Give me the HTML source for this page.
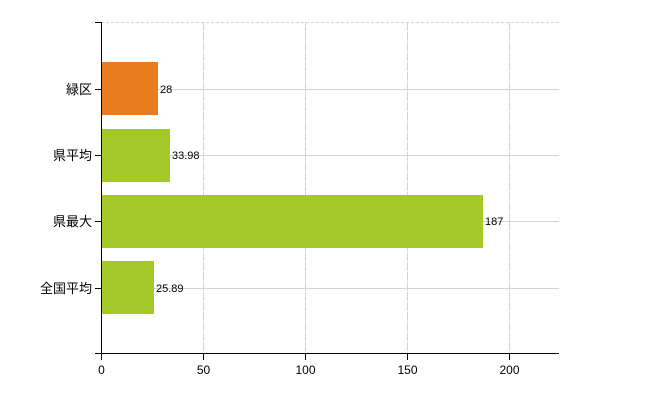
<!DOCTYPE html>
<html><head><meta charset="utf-8"><style>
html,body{margin:0;padding:0;background:#fff;}
svg text{font-family:"Liberation Sans","Noto Sans CJK JP",sans-serif;}
</style></head><body>
<svg width="650" height="400" viewBox="0 0 650 400" xmlns="http://www.w3.org/2000/svg">
<g stroke="#d4d4d4" stroke-width="1">
<line x1="101" y1="22.5" x2="559" y2="22.5" stroke-dasharray="3,2"/>
<line x1="101" y1="89.5" x2="559" y2="89.5"/>
<line x1="101" y1="155.5" x2="559" y2="155.5"/>
<line x1="101" y1="221.5" x2="559" y2="221.5"/>
<line x1="101" y1="288.5" x2="559" y2="288.5"/>
<line x1="203.5" y1="22" x2="203.5" y2="354" stroke-dasharray="9,1"/>
<line x1="305.5" y1="22" x2="305.5" y2="354" stroke-dasharray="9,1"/>
<line x1="407.5" y1="22" x2="407.5" y2="354" stroke-dasharray="9,1"/>
<line x1="509.5" y1="22" x2="509.5" y2="354" stroke-dasharray="9,1"/>
</g>
<rect x="101" y="62" width="57" height="53" fill="#e87c1e"/>
<rect x="101" y="129" width="69" height="53" fill="#a6c92a"/>
<rect x="101" y="195" width="382" height="53" fill="#a6c92a"/>
<rect x="101" y="261" width="53" height="53" fill="#a6c92a"/>
<g stroke="#000" stroke-width="1">
<line x1="101.5" y1="22" x2="101.5" y2="354"/>
<line x1="95" y1="353.5" x2="559" y2="353.5"/>
<line x1="95" y1="22.5" x2="101" y2="22.5"/>
<line x1="95" y1="89.5" x2="101" y2="89.5"/>
<line x1="95" y1="155.5" x2="101" y2="155.5"/>
<line x1="95" y1="221.5" x2="101" y2="221.5"/>
<line x1="95" y1="288.5" x2="101" y2="288.5"/>
<line x1="101.5" y1="354" x2="101.5" y2="360"/>
<line x1="203.5" y1="354" x2="203.5" y2="360"/>
<line x1="305.5" y1="354" x2="305.5" y2="360"/>
<line x1="407.5" y1="354" x2="407.5" y2="360"/>
<line x1="509.5" y1="354" x2="509.5" y2="360"/>
</g>
<g font-size="13" text-anchor="end" fill="#000">
<text x="92" y="94">緑区</text>
<text x="92" y="160">県平均</text>
<text x="92" y="226">県最大</text>
<text x="92" y="293">全国平均</text>
</g>
<g font-size="11" fill="#000">
<text x="160" y="93">28</text>
<text x="172" y="159">33.98</text>
<text x="485" y="225">187</text>
<text x="156" y="292">25.89</text>
</g>
<g font-size="12" text-anchor="middle" fill="#000">
<text x="101.5" y="374">0</text>
<text x="203.5" y="374">50</text>
<text x="305.5" y="374">100</text>
<text x="407.5" y="374">150</text>
<text x="509.5" y="374">200</text>
</g>
</svg>
</body></html>
